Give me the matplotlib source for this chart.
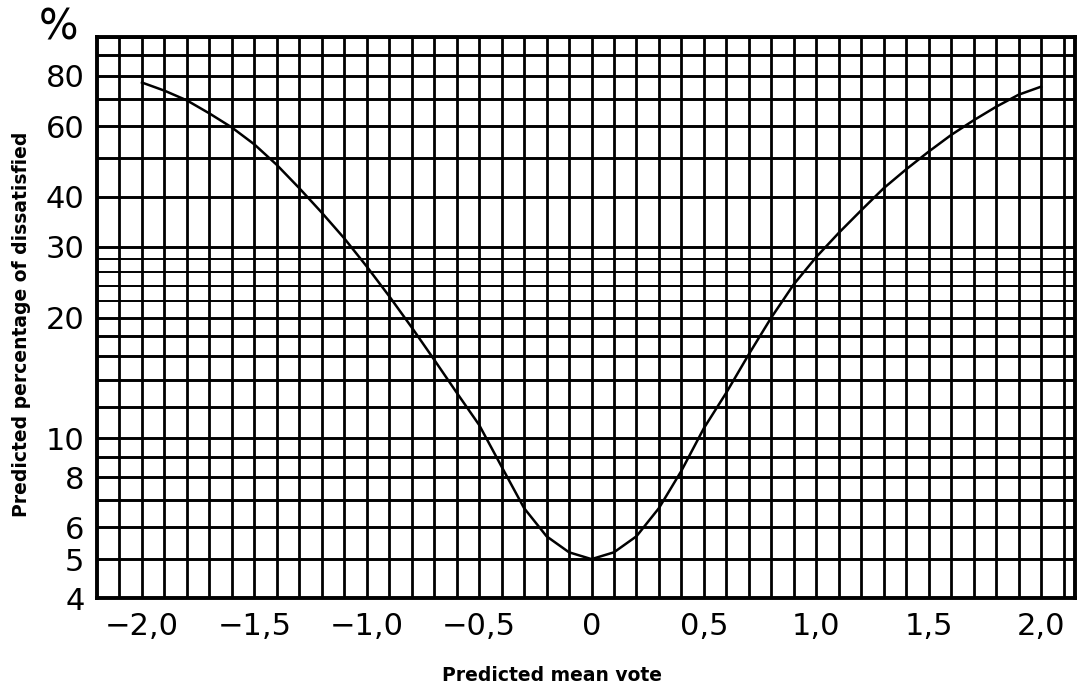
import matplotlib.pyplot as plt
import numpy as np
from matplotlib.ticker import FixedLocator, NullFormatter

# Predicted mean vote / predicted percentage of dissatisfied
pmv = [-2.0, -1.9, -1.8, -1.7, -1.6, -1.5, -1.4, -1.3, -1.2, -1.1, -1.0,
       -0.9, -0.8, -0.7, -0.6, -0.5, -0.4, -0.3, -0.2, -0.1, 0.0,
       0.1, 0.2, 0.3, 0.4, 0.5, 0.6, 0.7, 0.8, 0.9, 1.0,
       1.1, 1.2, 1.3, 1.4, 1.5, 1.6, 1.7, 1.8, 1.9, 2.0]
ppd = [77.0, 73.5, 69.5, 64.5, 59.5, 54.0, 48.0, 42.0, 36.5, 31.5, 26.8,
       22.6, 18.9, 15.7, 13.0, 10.8, 8.5, 6.7, 5.7, 5.2, 5.0,
       5.2, 5.7, 6.7, 8.3, 10.6, 13.0, 16.2, 20.0, 24.2, 28.3,
       32.5, 37.0, 42.0, 46.8, 51.8, 57.0, 62.0, 67.0, 71.8, 75.2]

x_ticks = [-2.0, -1.5, -1.0, -0.5, 0.0, 0.5, 1.0, 1.5, 2.0]
x_labels = ['\u22122,0', '\u22121,5', '\u22121,0', '\u22120,5', '0', '0,5', '1,0', '1,5', '2,0']
y_ticks = [4, 5, 6, 8, 10, 20, 30, 40, 60, 80]
y_labels = ['4', '5', '6', '8', '10', '20', '30', '40', '60', '80']
y_minor = [7, 9, 12, 14, 16, 18, 22, 24, 26, 28, 50, 70, 90, 100]
y_thin = [22, 24, 26, 28]

fig = plt.figure(figsize=(10.78, 6.94), dpi=100)
ax = fig.add_axes([0.090, 0.1383, 0.907, 0.8084])
ax.set_yscale('log')
ax.set_xlim(-2.2, 2.15)
ax.set_ylim(4, 100)

# grid paper
for xv in np.arange(-2.1, 2.11, 0.1):
    ax.axvline(xv, color='black', lw=2.0, zorder=1)
for yv in y_ticks + y_minor:
    lw = 1.4 if yv in y_thin else 2.1
    ax.axhline(yv, color='black', lw=lw, zorder=1)

ax.plot(pmv, ppd, color='black', lw=1.8, zorder=3)

ax.xaxis.set_major_locator(FixedLocator(x_ticks))
ax.set_xticklabels(x_labels)
ax.yaxis.set_major_locator(FixedLocator(y_ticks))
ax.yaxis.set_minor_locator(FixedLocator(y_minor))
ax.yaxis.set_minor_formatter(NullFormatter())
ax.set_yticklabels(y_labels)
ax.tick_params(axis='both', which='both', length=0, labelsize=22)
ax.tick_params(axis='x', pad=10)
ax.tick_params(axis='y', pad=9)

for s in ax.spines.values():
    s.set_linewidth(2.8)

fig.text(0.054, 0.961, '%', fontsize=30, ha='center', va='center')
fig.text(0.020, 0.532, 'Predicted percentage of dissatisfied', rotation=90,
         fontsize=13.5, fontweight='bold', ha='center', va='center')
fig.text(0.512, 0.026, 'Predicted mean vote', fontsize=13.5, fontweight='bold',
         ha='center', va='center')

fig.savefig('out.png', dpi=100)
